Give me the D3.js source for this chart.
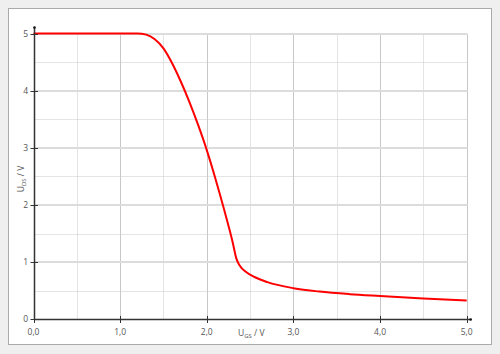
<!DOCTYPE html>
<meta charset="utf-8">
<body style="margin:0;background:#efefef">
<script src="https://d3js.org/d3.v7.min.js"></script>
<script>
// transfer curve U_DS over U_GS
var ugs = [0, 1.2, 1.3, 1.4, 1.5, 1.6, 1.7, 1.8, 1.9, 2.0, 2.1, 2.2, 2.3, 2.34, 2.38, 2.45, 2.55, 2.7, 3.0, 3.3, 3.65, 4.0, 4.5, 5.0];
var uds = [5, 5, 4.98, 4.9, 4.74, 4.48, 4.16, 3.8, 3.4, 2.96, 2.46, 1.92, 1.34, 1.07, 0.94, 0.83, 0.74, 0.65, 0.545, 0.485, 0.44, 0.408, 0.366, 0.33];
var xTicks = [0, 1, 2, 3, 4, 5];
var yTicks = [0, 1, 2, 3, 4, 5];
var xMinor = [0.5, 1.5, 2.5, 3.5, 4.5];
var yMinor = [0.5, 1.5, 2.5, 3.5, 4.5];

var width = 500, height = 354;

var svg = d3.select("body").append("svg")
    .attr("width", width)
    .attr("height", height)
    .style("display", "block")
    .style("font-family", "'Open Sans', sans-serif");

svg.append("rect")
    .attr("x", 8.5).attr("y", 8.5)
    .attr("width", 483).attr("height", 336)
    .attr("fill", "#fff")
    .attr("stroke", "#aaa");

var x = d3.scaleLinear().domain([0, 5]).range([33.5, 466.7]);
var y = d3.scaleLinear().domain([0, 5]).range([319.3, 33.5]);
// pixel snapped positions for crisp grid lines
var px = d => Math.round(x(d)) + 0.5;
var py = d => Math.round(y(d)) + 0.5;

var g = svg.append("g");

// minor grid (dotted)
g.selectAll(".vminor").data(xMinor).enter().append("line")
    .attr("x1", px).attr("x2", px)
    .attr("y1", py(0)).attr("y2", py(5))
    .attr("stroke", "#c8c8c8").attr("stroke-dasharray", "1,1");
g.selectAll(".hminor").data(yMinor).enter().append("line")
    .attr("x1", px(0)).attr("x2", px(5))
    .attr("y1", py).attr("y2", py)
    .attr("stroke", "#c8c8c8").attr("stroke-dasharray", "1,1");

// major grid
g.selectAll(".vmajor").data(xTicks.slice(1)).enter().append("line")
    .attr("x1", px).attr("x2", px)
    .attr("y1", py(0)).attr("y2", py(5))
    .attr("stroke", "#c8c8c8");
g.selectAll(".hmajor").data(yTicks.slice(1)).enter().append("line")
    .attr("x1", px(0)).attr("x2", px(5))
    .attr("y1", d => Math.round(y(d))).attr("y2", d => Math.round(y(d)))
    .attr("stroke", "#dcdcdc").attr("stroke-width", 2);

// curve
var pts = ugs.map((v, i) => [v, uds[i]]);
svg.append("path")
    .datum(pts)
    .attr("fill", "none")
    .attr("stroke", "#ff0000")
    .attr("stroke-width", 2)
    .attr("d", d3.line().x(d => x(d[0])).y(d => y(d[1])).curve(d3.curveMonotoneX));

// axes
var ax = svg.append("g").attr("stroke", "#333");
ax.append("line").attr("x1", px(0)).attr("x2", x(5) + 3.5)
    .attr("y1", py(0)).attr("y2", py(0)).attr("stroke-width", 1.5);
ax.append("line").attr("x1", px(0)).attr("x2", px(0))
    .attr("y1", py(0)).attr("y2", y(5) - 5.5).attr("stroke-width", 1.5);
svg.append("circle").attr("cx", x(5) + 4).attr("cy", py(0)).attr("r", 1.3).attr("fill", "#111");
svg.append("circle").attr("cx", px(0)).attr("cy", y(5) - 6).attr("r", 1.3).attr("fill", "#111");

ax.selectAll(".xt").data(xTicks).enter().append("line")
    .attr("x1", px).attr("x2", px)
    .attr("y1", py(0) - 3.5).attr("y2", py(0) + 3.5);
ax.selectAll(".yt").data(yTicks).enter().append("line")
    .attr("x1", px(0) - 4).attr("x2", px(0) + 3.5)
    .attr("y1", py).attr("y2", py);

svg.selectAll(".xl").data(xTicks).enter().append("text")
    .attr("x", d => x(d)).attr("y", 335)
    .attr("text-anchor", "middle")
    .attr("font-size", 8.5).attr("fill", "#555")
    .text(d => d.toFixed(1).replace(".", ","));
svg.selectAll(".yl").data(yTicks).enter().append("text")
    .attr("x", 28).attr("y", d => y(d) + 3)
    .attr("text-anchor", "end")
    .attr("font-size", 8.5).attr("fill", "#555")
    .text(d => d);

// axis titles
var xt = svg.append("text").attr("x", 238).attr("y", 336)
    .attr("font-size", 8.5).attr("fill", "#555");
xt.append("tspan").text("U");
xt.append("tspan").attr("font-size", 6).attr("dy", 1.5).text("GS");
xt.append("tspan").attr("dy", -1.5).text(" / V");

var yt = svg.append("text")
    .attr("transform", "translate(24,179) rotate(-90)")
    .attr("text-anchor", "middle")
    .attr("font-size", 8.5).attr("fill", "#555");
yt.append("tspan").text("U");
yt.append("tspan").attr("font-size", 6).attr("dy", 1.5).text("DS");
yt.append("tspan").attr("dy", -1.5).text(" / V");
</script>
</body>
